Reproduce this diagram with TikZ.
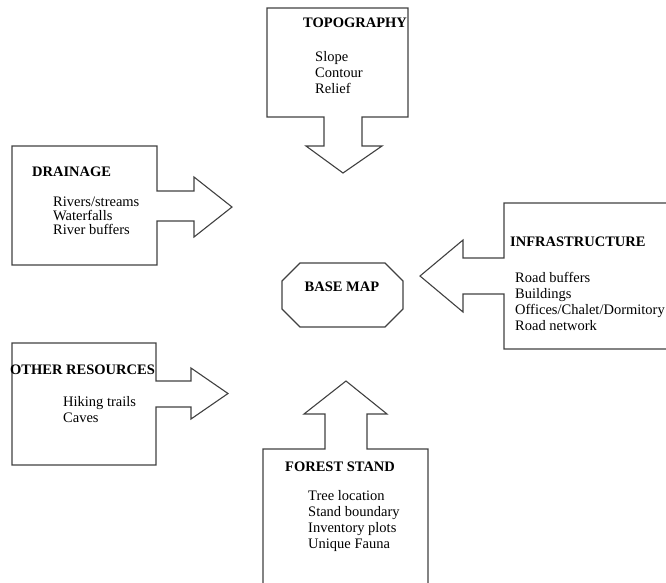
\documentclass[tikz,border=0pt]{standalone}
\usepackage{fontspec}
\setmainfont{Liberation Serif}
\usepackage{tikz}

\tikzset{
  blockline/.style={draw=black!75, line width=1.1pt, line join=miter},
  title/.style={font=\fontsize{14.5}{16}\selectfont\bfseries, anchor=west, inner sep=0pt},
  items/.style={font=\fontsize{14.5}{16}\selectfont, align=left, anchor=west, inner sep=0pt}
}

\begin{document}
\begin{tikzpicture}[x=1pt, y=-1pt]
    \useasboundingbox (0,0) rectangle (666,582);
    \clip (0,0) rectangle (666,582);
    % Topography (box with arrow pointing down)
    \draw[blockline] (267,8) -- (408,8) -- (408,117) -- (362,117) -- (362,146) -- (382,146)
        -- (343,173) -- (306,146) -- (324,146) -- (324,117) -- (267,117) -- cycle;
    \node[title] (topo) at (303,23) {TOPOGRAPHY};
    \node[items] (topolist) at (315,73) {Slope\\Contour\\Relief};
    % Drainage (arrow pointing right)
    \draw[blockline] (12,146) -- (157,146) -- (157,191) -- (194,191) -- (194,177) -- (232,207)
        -- (194,237) -- (194,221) -- (157,221) -- (157,265) -- (12,265) -- cycle;
    \node[title] (drain) at (32,172) {DRAINAGE};
    \node[items, font=\fontsize{14.5}{14}\selectfont] (drainlist) at (53,215.5) {Rivers/streams\\Waterfalls\\River buffers};
    % Infrastructure (arrow pointing left)
    \draw[blockline] (504,203) -- (690,203) -- (690,349) -- (504,349) -- (504,294) -- (463,294)
        -- (463,312) -- (420,276) -- (463,240) -- (463,258) -- (504,258) -- cycle;
    \node[title] (infra) at (510,242) {INFRASTRUCTURE};
    \node[items] (infralist) at (515,301) {Road buffers\\Buildings\\Offices/Chalet/Dormitory\\Road network};
    % Other resources (arrow pointing right)
    \draw[blockline] (12,343) -- (156,343) -- (156,381) -- (191,381) -- (191,368) -- (228,393.5)
        -- (191,419) -- (191,407) -- (156,407) -- (156,465) -- (12,465) -- cycle;
    \node[title] (other) at (10,370) {OTHER RESOURCES};
    \node[items] (otherlist) at (63,410) {Hiking trails\\Caves};
    % Forest stand (arrow pointing up)
    \draw[blockline] (263,600) -- (263,449) -- (325,449) -- (325,414) -- (304,414) -- (346,381)
        -- (387,414) -- (367,414) -- (367,449) -- (428,449) -- (428,600);
    \node[title] (forest) at (285,467) {FOREST STAND};
    \node[items] (forestlist) at (308,521) {Tree location\\Stand boundary\\Inventory plots\\Unique Fauna};
    % Base map (octagon)
    \draw[blockline] (300,263) -- (385,263) -- (403,281) -- (403,309) -- (385,327) -- (300,327)
        -- (282,309) -- (282,281) -- cycle;
    \node[title, anchor=center] (base) at (342,287) {BASE MAP};
\end{tikzpicture}
\end{document}
